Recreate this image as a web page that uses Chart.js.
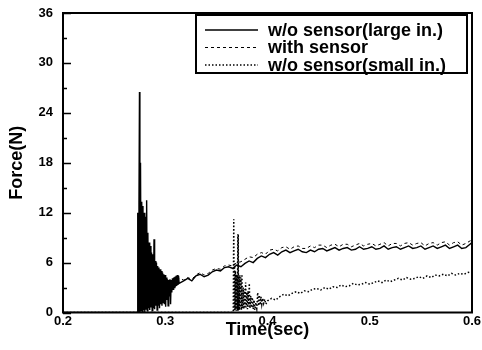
<!DOCTYPE html>
<html>
<head>
<meta charset="utf-8">
<script src="https://cdn.jsdelivr.net/npm/chart.js@4.4.1/dist/chart.umd.min.js"></script>
<style>
  html, body { margin: 0; padding: 0; background: #fff; }
  #wrap { width: 482px; height: 350px; position: relative; }
</style>
</head>
<body>
<div id="wrap"><canvas id="forceChart"></canvas></div>
<script>
// time (s) / force (N)
const timeLarge = [
  0.200, 0.2725, 0.2731, 0.2737, 0.2743, 0.2748, 0.2752, 0.2758, 0.2764, 0.2770,
  0.2776, 0.2782, 0.2788, 0.2794, 0.2800, 0.2806, 0.2812, 0.2818, 0.2824, 0.2830,
  0.2836, 0.2842, 0.2848, 0.2854, 0.2860, 0.2866, 0.2872, 0.2878, 0.2884, 0.2890,
  0.2896, 0.2902, 0.2908, 0.2914, 0.2920, 0.2926, 0.2932, 0.2938, 0.2944, 0.2950,
  0.2956, 0.2962, 0.2968, 0.2974, 0.2980, 0.2986, 0.2992, 0.2998, 0.3004, 0.3010,
  0.3016, 0.3022, 0.3028, 0.3034, 0.3040, 0.3046, 0.3052, 0.3058, 0.3064, 0.3070,
  0.3076, 0.3082, 0.3088, 0.3094, 0.3100, 0.3106, 0.3112, 0.3118, 0.3124, 0.3130,
  0.3136, 0.318, 0.322, 0.326, 0.330, 0.334, 0.338, 0.342, 0.346, 0.350,
  0.354, 0.358, 0.362, 0.366, 0.370, 0.374, 0.378, 0.382, 0.386, 0.390,
  0.394, 0.398, 0.402, 0.406, 0.410, 0.414, 0.418, 0.422, 0.426, 0.430,
  0.434, 0.438, 0.442, 0.446, 0.450, 0.454, 0.458, 0.462, 0.466, 0.470,
  0.474, 0.478, 0.482, 0.486, 0.490, 0.494, 0.498, 0.502, 0.506, 0.510,
  0.514, 0.518, 0.522, 0.526, 0.530, 0.534, 0.538, 0.542, 0.546, 0.550,
  0.554, 0.558, 0.562, 0.566, 0.570, 0.574, 0.578, 0.582, 0.586, 0.590,
  0.594, 0.598, 0.600
];
const forceLarge = [
  0, 0, 12.0, 0, 13.0, 26.5, 0, 18.0, 0.2, 13.3,
  0, 12.8, 0.3, 12.0, 0, 11.5, 0.4, 13.5, 0.2, 9.6,
  0.5, 8.4, 0.3, 8.0, 0.6, 7.2, 0.2, 7.0, 0.5, 8.8,
  0.4, 6.2, 0.8, 6.0, 0.3, 5.6, 0.9, 5.4, 0.5, 5.2,
  1.0, 5.0, 0.8, 4.8, 1.2, 4.6, 1.0, 4.5, 0.7, 4.2,
  1.5, 4.0, 0.8, 3.9, 2.0, 4.0, 1.0, 3.9, 2.4, 4.1,
  2.8, 4.2, 3.0, 4.3, 3.1, 4.4, 3.2, 4.5, 3.3, 4.4,
  3.5, 3.8, 4.1, 3.8, 4.4, 4.6, 4.3, 4.5, 4.9, 5.1,
  5.0, 5.4, 5.5, 5.3, 5.7, 5.5, 5.9, 6.2, 6.0, 6.5,
  6.8, 6.6, 7.0, 7.2, 6.9, 7.3, 7.5, 7.2, 7.4, 7.6,
  7.3, 7.2, 7.5, 7.3, 7.6, 7.7, 7.4, 7.6, 7.8, 7.5,
  7.7, 7.8, 7.5, 7.6, 7.9, 7.6, 7.7, 7.9, 7.6, 7.7,
  8.0, 7.6, 7.8, 7.9, 7.6, 7.8, 8.0, 7.7, 7.8, 8.0,
  7.6, 7.8, 8.0, 7.7, 7.9, 8.1, 7.7, 7.9, 8.1, 7.7,
  7.8, 8.2, 8.4
];

const timeSensor = [
  0.200, 0.2750, 0.2755, 0.2760, 0.2768, 0.2774, 0.2782, 0.2788, 0.2796, 0.2802,
  0.2812, 0.2818, 0.2828, 0.2834, 0.2845, 0.2852, 0.2862, 0.2870, 0.2882, 0.2890,
  0.2902, 0.2910, 0.2922, 0.2930, 0.2942, 0.2950, 0.2962, 0.2970, 0.2982, 0.2992,
  0.3004, 0.3016, 0.3028, 0.3040, 0.3052, 0.3066, 0.3080, 0.310,
  0.314, 0.318, 0.322, 0.326, 0.330, 0.334, 0.338, 0.342, 0.346, 0.350,
  0.354, 0.358, 0.362, 0.366, 0.370, 0.374, 0.378, 0.382, 0.386, 0.390,
  0.394, 0.398, 0.402, 0.406, 0.410, 0.414, 0.418, 0.422, 0.426, 0.430,
  0.434, 0.438, 0.442, 0.446, 0.450, 0.454, 0.458, 0.462, 0.466, 0.470,
  0.474, 0.478, 0.482, 0.486, 0.490, 0.494, 0.498, 0.502, 0.506, 0.510,
  0.514, 0.518, 0.522, 0.526, 0.530, 0.534, 0.538, 0.542, 0.546, 0.550,
  0.554, 0.558, 0.562, 0.566, 0.570, 0.574, 0.578, 0.582, 0.586, 0.590,
  0.594, 0.598, 0.600
];
const forceSensor = [
  0, 0, 14.0, 0.5, 12.0, 0.8, 10.5, 0.6, 9.0, 1.0,
  7.5, 0.8, 6.5, 1.2, 6.0, 1.0, 5.5, 1.4, 5.0, 1.6,
  4.6, 1.5, 4.4, 1.9, 4.2, 2.2, 4.1, 2.4, 4.0, 2.7,
  3.9, 3.0, 3.9, 3.3, 3.9, 3.5, 4.0, 3.8,
  4.1, 3.9, 4.2, 4.0, 4.5, 4.8, 4.5, 4.7, 5.1, 5.3,
  5.2, 5.6, 5.7, 5.6, 6.0, 6.1, 6.4, 6.7, 6.6, 7.0,
  7.2, 7.0, 7.5, 7.6, 7.4, 7.8, 7.9, 7.6, 7.9, 8.0,
  7.7, 7.7, 8.0, 7.8, 8.1, 8.1, 7.8, 8.1, 8.2, 7.9,
  8.2, 8.2, 7.9, 8.1, 8.3, 8.0, 8.2, 8.3, 8.0, 8.2,
  8.4, 8.0, 8.3, 8.3, 8.0, 8.3, 8.4, 8.1, 8.3, 8.4,
  8.0, 8.3, 8.4, 8.1, 8.4, 8.5, 8.1, 8.4, 8.5, 8.1,
  8.3, 8.6, 8.7
];

const timeSmall = [
  0.200, 0.3665, 0.3670, 0.3674, 0.3678, 0.3682, 0.3686, 0.3690, 0.3694, 0.3698,
  0.3702, 0.3706, 0.3710, 0.3712, 0.3714, 0.3716, 0.3720, 0.3725, 0.3730, 0.3735,
  0.3740, 0.3745, 0.3750, 0.3756, 0.3762, 0.3768, 0.3774, 0.3780, 0.3786, 0.3792,
  0.3798, 0.3804, 0.3810, 0.3816, 0.3822, 0.3828, 0.3836, 0.3844, 0.3852, 0.3860,
  0.3868, 0.3876, 0.3886, 0.3895, 0.3904, 0.3912, 0.3920, 0.3928, 0.3936, 0.3944,
  0.3952, 0.3962, 0.3972, 0.3984, 0.400, 0.404, 0.408, 0.412, 0.416, 0.420,
  0.424, 0.428, 0.432, 0.436, 0.440, 0.444, 0.448, 0.452, 0.456, 0.460,
  0.464, 0.468, 0.472, 0.476, 0.480, 0.484, 0.488, 0.492, 0.496, 0.500,
  0.504, 0.508, 0.512, 0.516, 0.520, 0.524, 0.528, 0.532, 0.536, 0.540,
  0.544, 0.548, 0.552, 0.556, 0.560, 0.564, 0.568, 0.572, 0.576, 0.580,
  0.584, 0.588, 0.592, 0.596, 0.600
];
const forceSmall = [
  0, 0, 11.2, 0.3, 6.0, 0.2, 5.0, 0.4, 4.6, 0.2,
  4.5, 0.3, 9.4, 0.2, 9.4, 0.2, 4.4, 0.3, 4.5, 0.4,
  4.2, 0.3, 4.6, 0.5, 3.0, 0.4, 2.8, 0.5, 3.6, 0.6,
  2.4, 0.4, 2.6, 0.7, 3.5, 0.5, 2.0, 0.6, 1.8, 0.4,
  1.5, 0.3, 1.2, 0.5, 2.4, 0.8, 2.1, 0.9, 1.9, 1.0,
  1.7, 1.1, 1.6, 1.0, 1.4, 1.7, 1.5, 1.9, 2.2, 2.0,
  2.3, 2.5, 2.3, 2.6, 2.5, 2.8, 2.9, 2.7, 3.0, 2.8,
  3.1, 3.0, 3.3, 3.1, 3.2, 3.5, 3.3, 3.4, 3.6, 3.4,
  3.6, 3.8, 3.6, 3.9, 3.7, 3.9, 4.1, 3.9, 4.2, 4.0,
  4.1, 4.3, 4.1, 4.4, 4.2, 4.5, 4.4, 4.6, 4.4, 4.7,
  4.5, 4.7, 4.6, 4.8, 4.9
];

const seriesLabels = ['w/o sensor(large in.)', 'with sensor', 'w/o sensor(small in.)'];
const yTicks = [0, 6, 12, 18, 24, 30, 36];
const xTicks = [0.2, 0.3, 0.4, 0.5, 0.6];

const FONT = '"Liberation Sans", Arial, Helvetica, sans-serif';

function toPoints(ts, fs) {
  return ts.map((t, i) => ({ x: t, y: fs[i] }));
}

// frame, inward y ticks and boxed legend
const framePlugin = {
  id: 'frame',
  afterDatasetsDraw(chart) {
    const ctx = chart.ctx;
    const a = chart.chartArea;
    const ys = chart.scales.y;
    ctx.save();
    ctx.strokeStyle = '#000';
    ctx.lineWidth = 2;
    ctx.strokeRect(a.left, a.top, a.right - a.left, a.bottom - a.top);
    ctx.lineWidth = 1.5;
    ctx.beginPath();
    for (let v = 0; v <= 36; v += 3) {
      const y = Math.round(ys.getPixelForValue(v)) + 0.5;
      const len = (v % 6 === 0) ? 8 : 4;
      ctx.moveTo(a.left, y);
      ctx.lineTo(a.left + len, y);
    }
    ctx.stroke();
    ctx.restore();
  },
  afterDraw(chart) {
    const ctx = chart.ctx;
    const box = { x: 196, y: 15, w: 271, h: 58 };
    ctx.save();
    ctx.fillStyle = '#fff';
    ctx.fillRect(box.x, box.y, box.w, box.h);
    ctx.strokeStyle = '#000';
    ctx.lineWidth = 2;
    ctx.strokeRect(box.x, box.y, box.w, box.h);
    ctx.font = 'bold 18px ' + FONT;
    ctx.textBaseline = 'middle';
    ctx.fillStyle = '#000';
    chart.data.datasets.forEach((ds, i) => {
      const y = 30 + i * 17.5;
      ctx.beginPath();
      ctx.setLineDash(ds.borderDash || []);
      ctx.lineWidth = ds.borderWidth;
      ctx.moveTo(205, y);
      ctx.lineTo(258, y);
      ctx.stroke();
      ctx.setLineDash([]);
      ctx.fillText(ds.label, 268, y + 1);
    });
    ctx.restore();
  }
};

const ctx = document.getElementById('forceChart').getContext('2d');
new Chart(ctx, {
  type: 'line',
  data: {
    datasets: [
      {
        label: seriesLabels[0],
        data: toPoints(timeLarge, forceLarge),
        borderColor: '#000',
        borderWidth: 1.4
      },
      {
        label: seriesLabels[1],
        data: toPoints(timeSensor, forceSensor),
        borderColor: '#000',
        borderWidth: 1,
        borderDash: [3, 3]
      },
      {
        label: seriesLabels[2],
        data: toPoints(timeSmall, forceSmall),
        borderColor: '#000',
        borderWidth: 1.5,
        borderDash: [1.5, 2]
      }
    ]
  },
  options: {
    responsive: true,
    maintainAspectRatio: false,
    animation: false,
    elements: { point: { radius: 0 }, line: { tension: 0 } },
    layout: { padding: { left: 0, right: 10, top: 13, bottom: 0 } },
    plugins: {
      legend: { display: false },
      tooltip: { enabled: false }
    },
    scales: {
      x: {
        type: 'linear',
        min: 0.2,
        max: 0.6,
        afterBuildTicks: (scale) => { scale.ticks = xTicks.map(v => ({ value: v })); },
        afterFit: (scale) => {
          scale.height = 37.5;
          scale.paddingLeft = 0;
          scale.paddingRight = 0;
        },
        grid: { display: false, drawTicks: false },
        border: { display: false },
        ticks: {
          padding: 1,
          color: '#000',
          font: { family: FONT, size: 13, weight: 'bold' },
          callback: (v) => v.toFixed(1)
        },
        title: {
          display: true,
          text: 'Time(sec)',
          color: '#000',
          font: { family: FONT, size: 18, weight: 'bold' },
          padding: { top: 0, bottom: 9 }
        }
      },
      y: {
        min: 0,
        max: 36,
        afterBuildTicks: (scale) => { scale.ticks = yTicks.map(v => ({ value: v })); },
        afterFit: (scale) => {
          scale.width = 63;
          scale.paddingTop = 0;
          scale.paddingBottom = 0;
        },
        grid: { display: false, drawTicks: false },
        border: { display: false },
        ticks: {
          padding: 10,
          color: '#000',
          font: { family: FONT, size: 13, weight: 'bold' }
        },
        title: {
          display: true,
          text: 'Force(N)',
          color: '#000',
          font: { family: FONT, size: 18, weight: 'bold' },
          padding: { top: 6, bottom: 0 }
        }
      }
    }
  },
  plugins: [framePlugin]
});
</script>
</body>
</html>
